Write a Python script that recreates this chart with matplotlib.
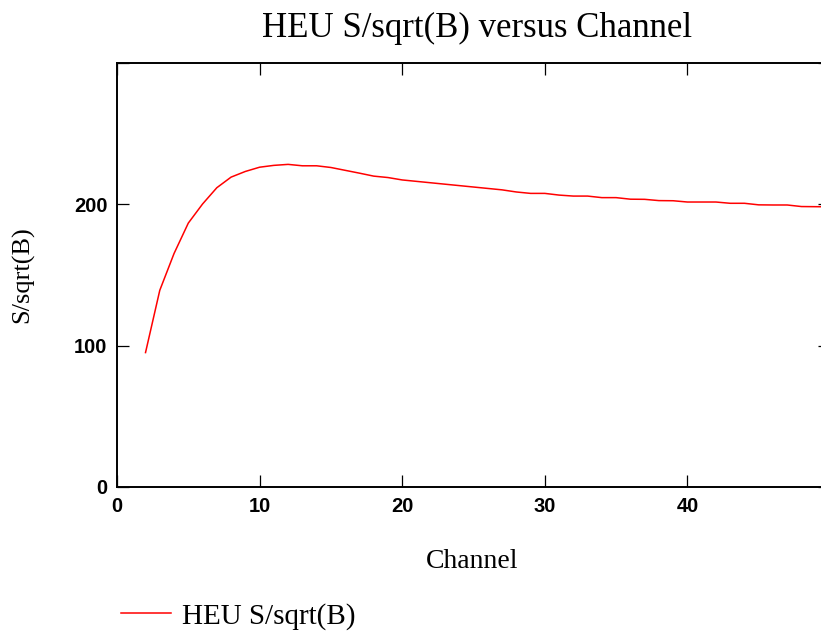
import matplotlib
matplotlib.use("Agg")
import matplotlib.pyplot as plt

# S/sqrt(B) for HEU per channel count
channels = list(range(2, 51))
s_sqrt_b = [95, 139, 165, 186.5, 200, 211.5, 219, 223, 226, 227.3,
            228, 227, 227, 225.8, 223.8, 221.8, 219.7, 218.7, 217, 216,
            215, 214, 213, 212, 211, 210, 208.5, 207.5, 207.5, 206.3,
            205.6, 205.6, 204.5, 204.5, 203.4, 203.3, 202.4, 202.3, 201.4, 201.4,
            201.4, 200.5, 200.5, 199.4, 199.3, 199.3, 198.2, 198.1, 198]

xticks = [0, 10, 20, 30, 40, 50]
xtick_labels = ["0", "10", "20", "30", "40", ""]
yticks = [0, 100, 200, 300]
ytick_labels = ["0", "100", "200", ""]

W, H = 821, 631
fig = plt.figure(figsize=(W / 100, H / 100), dpi=100)
ax = fig.add_axes([117 / W, 1 - 487 / H, 713 / W, 424.5 / H])

line, = ax.plot(channels, s_sqrt_b, color="#ff0000", lw=1.1, label="HEU S/sqrt(B)")

ax.set_xlim(0, 50)
ax.set_ylim(0, 300)
ax.set_xticks(xticks)
ax.set_xticklabels(xtick_labels)
ax.set_yticks(yticks)
ax.set_yticklabels(ytick_labels)
ax.tick_params(direction="in", length=8.5, width=0.9, top=True, right=True,
               pad=7, labelsize=14.5)
for lab in ax.get_xticklabels() + ax.get_yticklabels():
    lab.set_fontfamily("Liberation Sans")
    lab.set_fontweight("bold")
for sp in ax.spines.values():
    sp.set_linewidth(1.4)

serif = "Liberation Serif"
fig.text(477 / W, 1 - 37 / H, "HEU S/sqrt(B) versus Channel", family=serif,
         fontsize=25, ha="center", va="baseline")
fig.text(472 / W, 1 - 568 / H, "Channel", family=serif, fontsize=20,
         ha="center", va="baseline")
fig.text(23 / W, 1 - 275 / H, "S/sqrt(B)", family=serif, fontsize=19,
         rotation=90, ha="center", va="center")

leg = fig.legend(handles=[line], loc="lower left", bbox_to_anchor=(121 / W, 1 - 630 / H),
                 frameon=False, borderpad=0, borderaxespad=0,
                 handlelength=1.72, handletextpad=0.38,
                 prop={"family": serif, "size": 21})

fig.savefig("out.png", dpi=100)
